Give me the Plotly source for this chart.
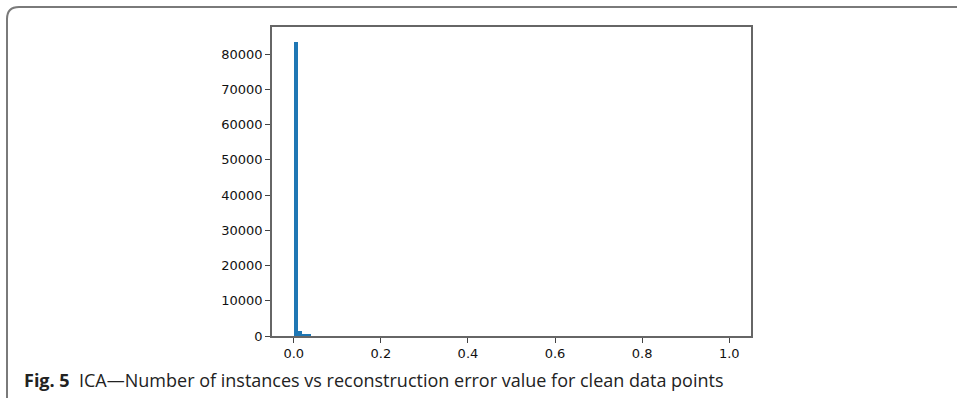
import numpy as np
import plotly.graph_objects as go

# Histogram of reconstruction error (100 bins between 0 and 1)
bin_edges = np.linspace(0.0, 1.0, 101)
counts = [83500, 1300, 550, 300, 0, 0, 0, 0, 0, 0,
          0, 0, 0, 0, 0, 0, 0, 0, 0, 0,
          0, 0, 0, 0, 0, 0, 0, 0, 0, 0,
          0, 0, 0, 0, 0, 0, 0, 0, 0, 0,
          0, 0, 0, 0, 0, 0, 0, 0, 0, 0,
          0, 0, 0, 0, 0, 0, 0, 0, 0, 0,
          0, 0, 0, 0, 0, 0, 0, 0, 0, 0,
          0, 0, 0, 0, 0, 0, 0, 0, 0, 0,
          0, 0, 0, 0, 0, 0, 0, 0, 0, 0,
          0, 0, 0, 0, 0, 0, 0, 0, 0, 1]
x_ticks = [0.0, 0.2, 0.4, 0.6, 0.8, 1.0]
y_ticks = [0, 10000, 20000, 30000, 40000, 50000, 60000, 70000, 80000]
caption_bold = "Fig. 5"
caption_text = "ICA\u2014Number of instances vs reconstruction error value for clean data points"

centers = (bin_edges[:-1] + bin_edges[1:]) / 2
widths = np.diff(bin_edges)

W, H = 957, 398
L, R, T, B = 272, 751, 27, 336
pw, ph = R - L, B - T


def px(x):
    return (x - L) / pw


def py(y):
    return (B - y) / ph


fig = go.Figure(go.Bar(
    x=centers, y=counts, width=widths,
    marker=dict(color="#1f77b4", line=dict(width=0)),
))

ymax = max(counts) * 1.05
tick_font = dict(family="DejaVu Sans", size=13, color="#111")
fig.update_layout(
    width=W, height=H,
    margin=dict(l=L, r=W - R, t=T, b=H - B, pad=0),
    paper_bgcolor="white", plot_bgcolor="white",
    showlegend=False, bargap=0,
    font=dict(family="DejaVu Sans", size=13, color="#111"),
)
fig.update_xaxes(
    range=[-0.05, 1.05], tickvals=x_ticks, tickformat=".1f",
    showgrid=False, zeroline=False, showline=True, mirror=True,
    linecolor="#666", linewidth=1.5, ticks="outside", ticklen=5,
    tickcolor="#444", tickfont=tick_font,
)
fig.update_yaxes(
    range=[0, ymax], tickvals=y_ticks, tickformat="d",
    showgrid=False, zeroline=False, showline=True, mirror=True,
    linecolor="#666", linewidth=1.5, ticks="outside", ticklen=5,
    tickcolor="#444", tickfont=tick_font,
)

# outer rounded frame (top and left border)
r = 12
x0, y0 = 7, 7
path = (f"M {px(x0)},{py(H + 5)} L {px(x0)},{py(y0 + r)} "
        f"Q {px(x0)},{py(y0)} {px(x0 + r)},{py(y0)} L {px(W + 5)},{py(y0)}")
fig.add_shape(type="path", xref="paper", yref="paper", path=path,
              line=dict(color="#7a7a7a", width=2))

fig.add_annotation(
    xref="paper", yref="paper", x=px(22), y=py(380),
    xanchor="left", yanchor="middle", showarrow=False,
    text=f"<b>{caption_bold}</b>  {caption_text}",
    font=dict(family="Open Sans", size=18, color="#222"),
)

fig.write_html("out.html")
